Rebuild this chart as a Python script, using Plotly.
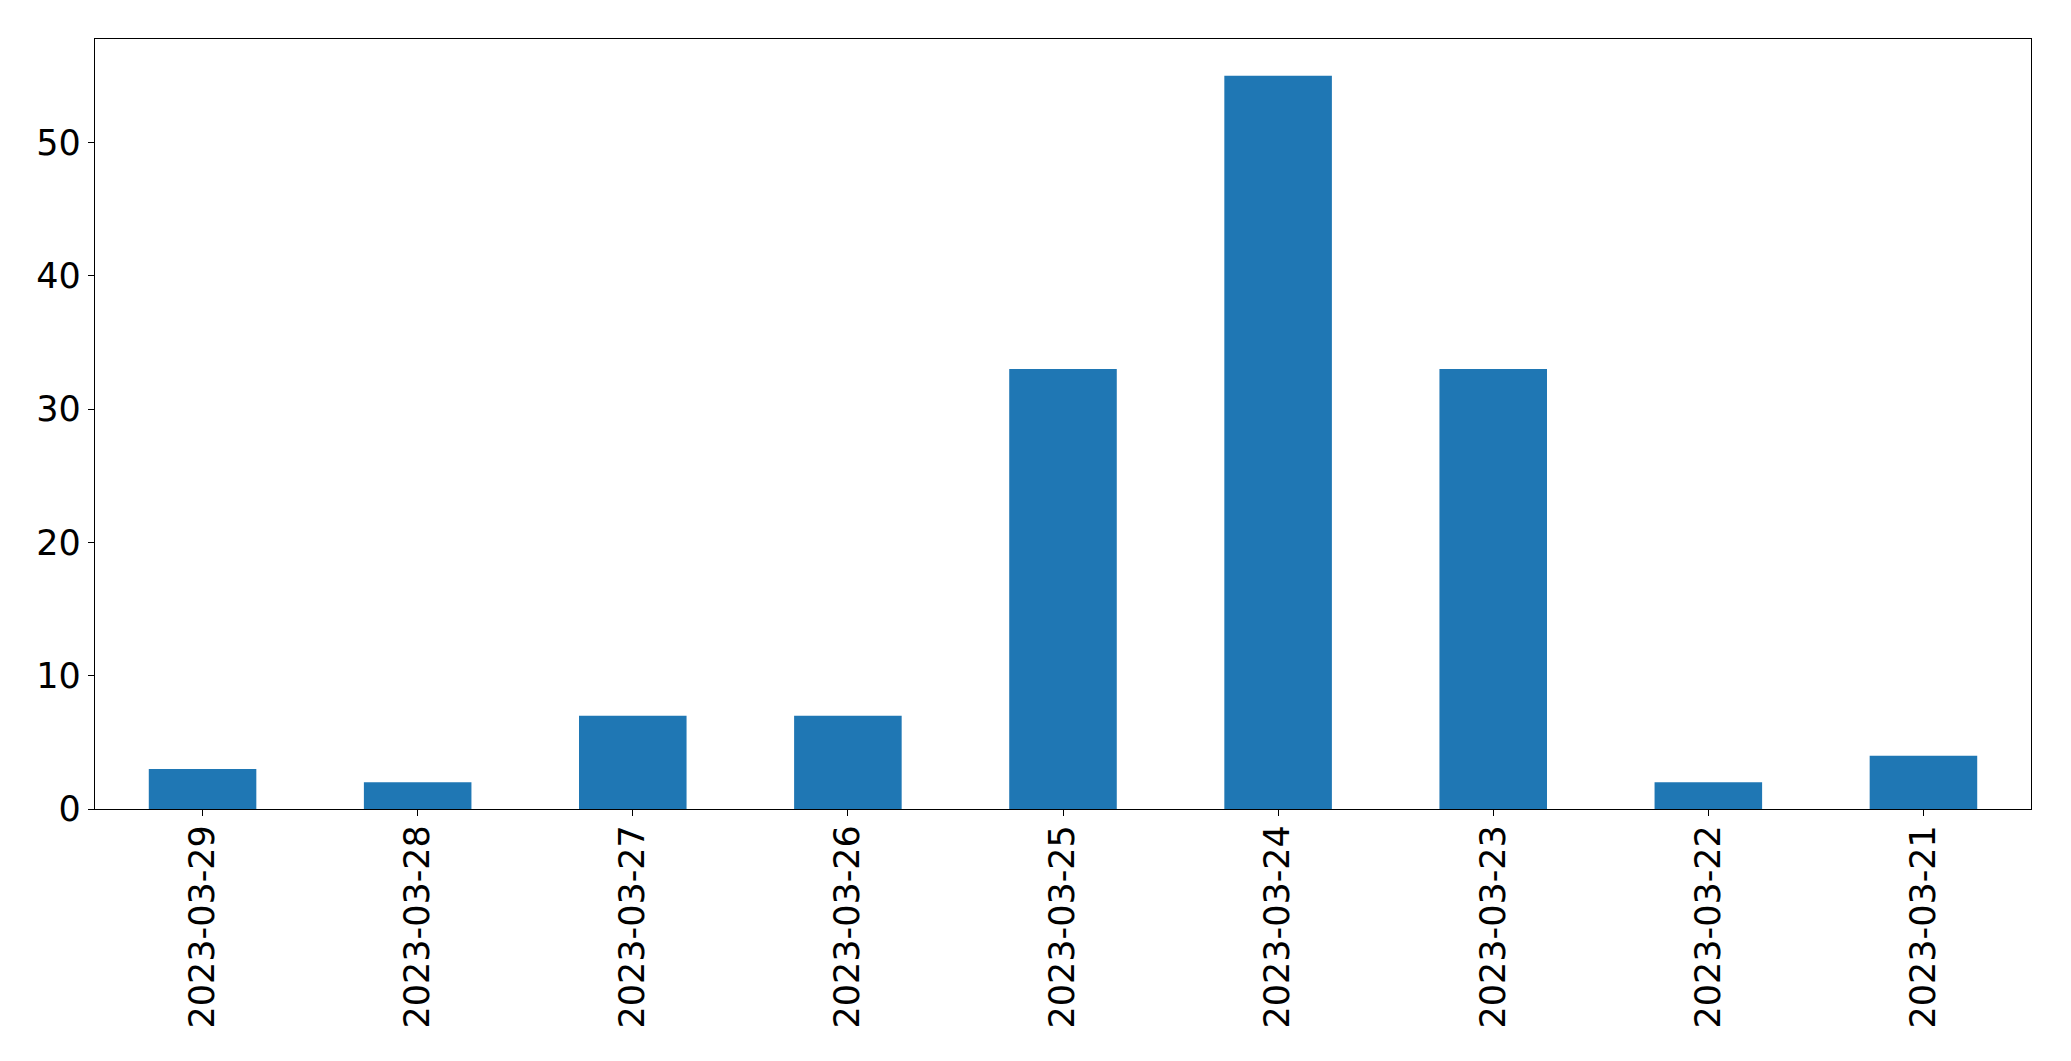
import plotly.graph_objects as go

dates = ["2023-03-29", "2023-03-28", "2023-03-27", "2023-03-26", "2023-03-25",
         "2023-03-24", "2023-03-23", "2023-03-22", "2023-03-21"]
counts = [3, 2, 7, 7, 33, 55, 33, 2, 4]
y_ticks = [0, 10, 20, 30, 40, 50]

fig = go.Figure(go.Bar(x=dates, y=counts, marker=dict(color="#1f77b4", line=dict(width=0))))

fig.update_layout(
    width=2071, height=1061,
    margin=dict(l=95, r=40, t=39, b=252),
    paper_bgcolor="white", plot_bgcolor="white",
    bargap=0.5, showlegend=False,
    font=dict(family="DejaVu Sans", size=35, color="black"),
)
fig.update_xaxes(
    type="category", range=[-0.5, 8.5], tickangle=-90,
    showline=True, linecolor="black", linewidth=1.3, mirror=True,
    ticks="outside", ticklen=6, tickcolor="black", tickwidth=1.3,
    showgrid=False, zeroline=False, ticklabelstandoff=-5,
)
fig.update_yaxes(
    range=[0, 57.75], tickvals=y_ticks,
    showline=True, linecolor="black", linewidth=1.3, mirror=True,
    ticks="outside", ticklen=6, tickcolor="black", tickwidth=1.3,
    showgrid=False, zeroline=False,
)
fig.write_html("out.html", config={"displayModeBar": False},
               post_script="document.body.style.margin='0';")
